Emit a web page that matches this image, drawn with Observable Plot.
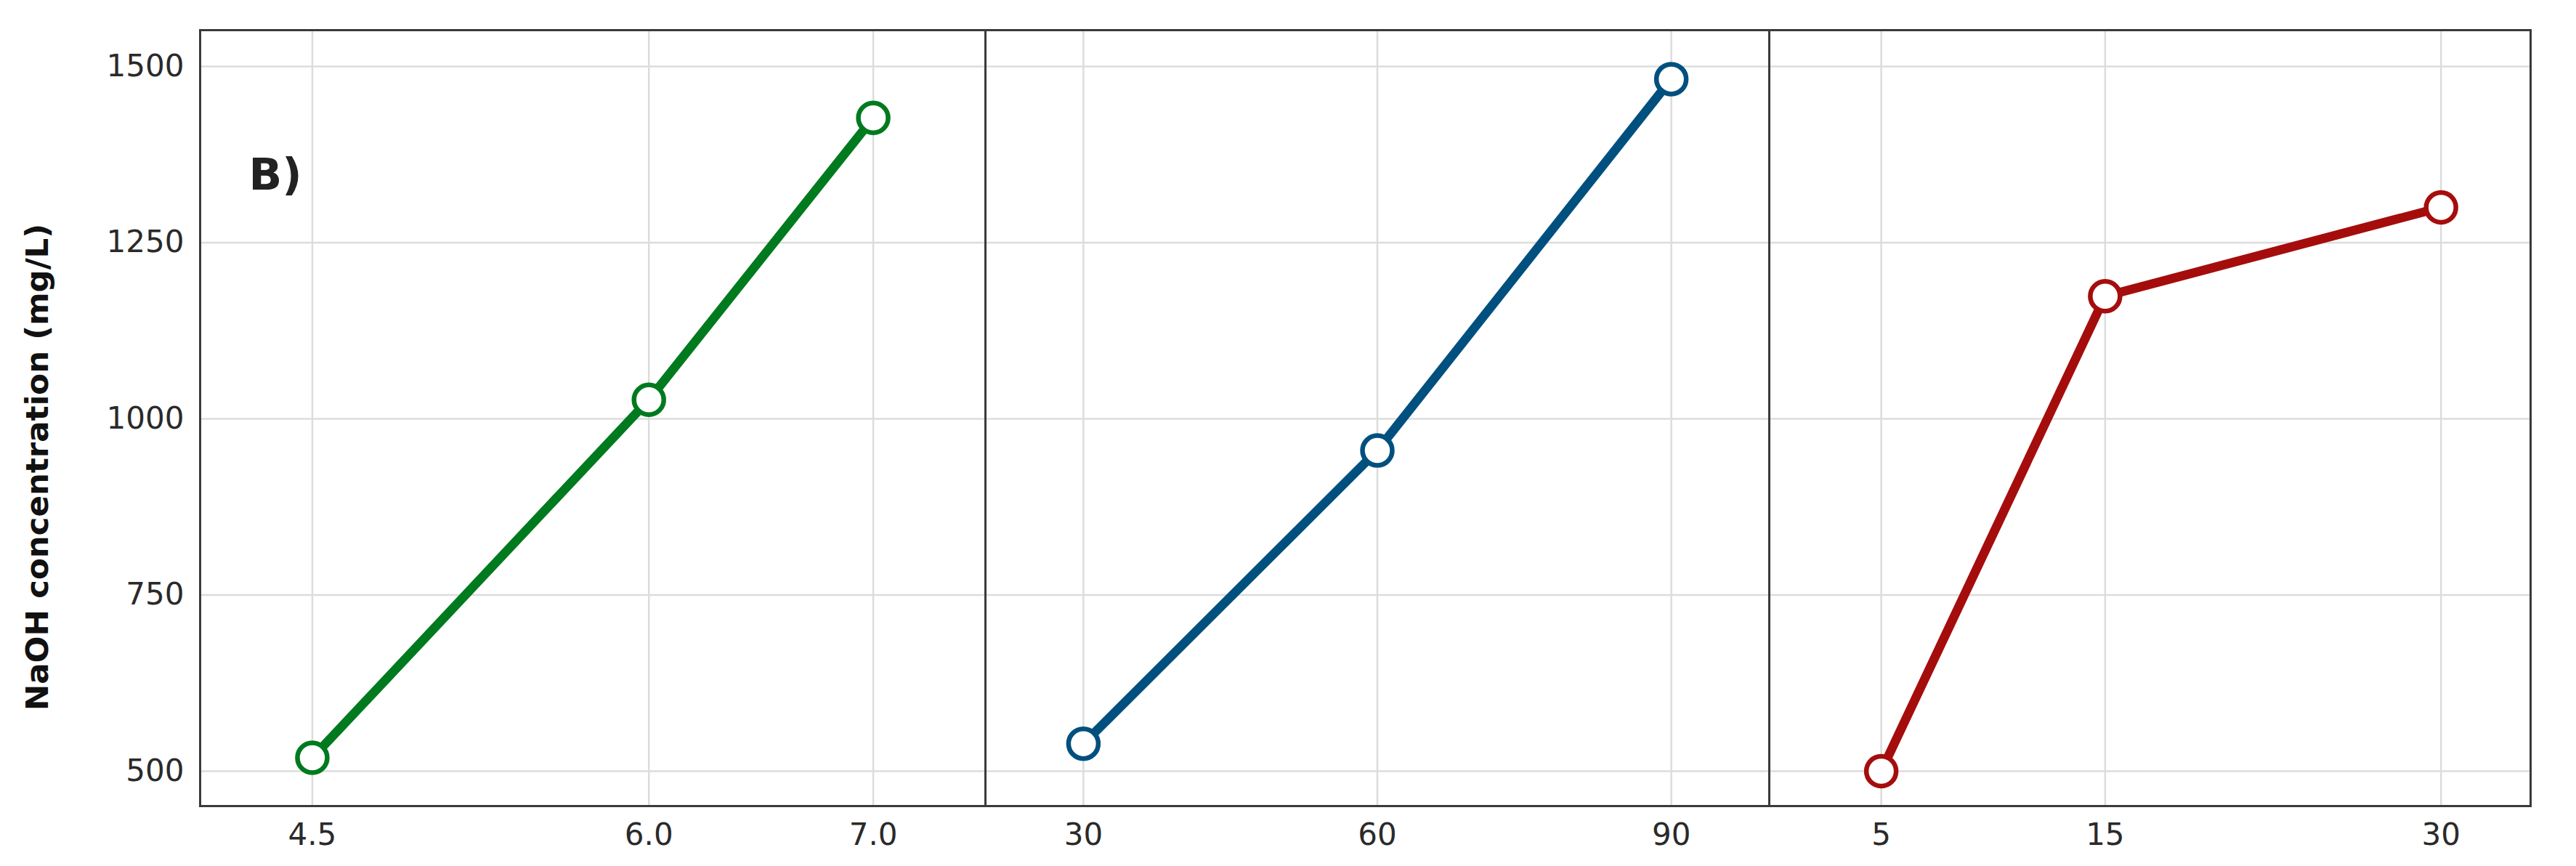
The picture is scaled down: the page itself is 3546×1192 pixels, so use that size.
<!DOCTYPE html>
<html>
<head>
<meta charset="utf-8">
<script src="https://cdn.jsdelivr.net/npm/d3@7"></script>
<script src="https://cdn.jsdelivr.net/npm/@observablehq/plot@0.6"></script>
<style>
  html, body { margin: 0; padding: 0; background: #fff; }
  #chart { display: flex; flex-direction: row; align-items: flex-start; width: 3546px; height: 1192px; }
  #chart svg { overflow: visible; }
</style>
</head>
<body>
<div id="chart"></div>
<script>
// Panel 1
const phLevels = [4.5, 6.0, 7.0];
const phValues = [519, 1027, 1427];
// Panel 2
const tempLevels = [30, 60, 90];
const tempValues = [539, 955, 1482];
// Panel 3
const timeLevels = [5, 15, 30];
const timeValues = [500, 1174, 1300];

const yTicks = [500, 750, 1000, 1250, 1500];
const yLabel = "NaOH concentration (mg/L)";
const panelLabel = "B)";

const colors = ["#007a1e", "#00507f", "#a50d0d"];

const panels = [
  {levels: phLevels, values: phValues, domain: [4.0, 7.5], fmt: d3.format(".1f"), color: colors[0], width: 1356, ml: 275, mr: 0, first: true},
  {levels: tempLevels, values: tempValues, domain: [20, 100], fmt: d3.format("d"), color: colors[1], width: 1079, ml: 0, mr: 0},
  {levels: timeLevels, values: timeValues, domain: [0, 34], fmt: d3.format("d"), color: colors[2], width: 1111, ml: 0, mr: 63}
];

const H = 1192, MT = 41, MB = 83;
const font = "DejaVu Sans, sans-serif";

const container = document.getElementById("chart");
for (const p of panels) {
  const data = p.levels.map((x, i) => ({x, y: p.values[i]}));
  const marks = [
    Plot.gridX(p.levels, {stroke: "#dcdcdc", strokeOpacity: 1, strokeWidth: 2.5}),
    Plot.gridY(yTicks, {stroke: "#dcdcdc", strokeOpacity: 1, strokeWidth: 2.5}),
    Plot.frame({stroke: "#3a3a3a", strokeWidth: 3}),
    Plot.axisX(p.levels, {tickSize: 0, tickPadding: 24, tickFormat: p.fmt, fill: "#2a2a2a", label: null}),
    Plot.line(data, {x: "x", y: "y", stroke: p.color, strokeWidth: 12.5}),
    Plot.dot(data, {x: "x", y: "y", r: 20.5, stroke: p.color, strokeWidth: 6.5, fill: "white"})
  ];
  if (p.first) {
    marks.push(Plot.axisY(yTicks, {tickSize: 0, tickPadding: 22, tickFormat: d3.format("d"), fill: "#2a2a2a", label: null}));
    marks.push(Plot.text([panelLabel], {frameAnchor: "top-left", dx: 67, dy: 200, text: d => d, fontSize: 60, fontWeight: "bold", fill: "#222", textAnchor: "start", lineAnchor: "middle"}));
  } else {
    marks.push(Plot.axisY(yTicks, {tickSize: 0, tickFormat: () => "", label: null}));
  }
  const svg = Plot.plot({
    width: p.width,
    height: H,
    marginLeft: p.ml,
    marginRight: p.mr,
    marginTop: MT,
    marginBottom: MB,
    style: {fontFamily: font, fontSize: "42px", background: "white", overflow: "visible"},
    x: {domain: p.domain},
    y: {domain: [450.5, 1551.5]},
    marks
  });
  container.appendChild(svg);
}

// y-axis title on the first panel
const firstSvg = container.querySelector("svg");
d3.select(firstSvg).append("text")
  .attr("transform", `translate(54, 643) rotate(-90)`)
  .attr("text-anchor", "middle")
  .attr("dominant-baseline", "middle")
  .attr("font-family", font)
  .attr("font-weight", "bold")
  .attr("font-size", 43.5)
  .attr("fill", "#111")
  .text(yLabel);
</script>
</body>
</html>
